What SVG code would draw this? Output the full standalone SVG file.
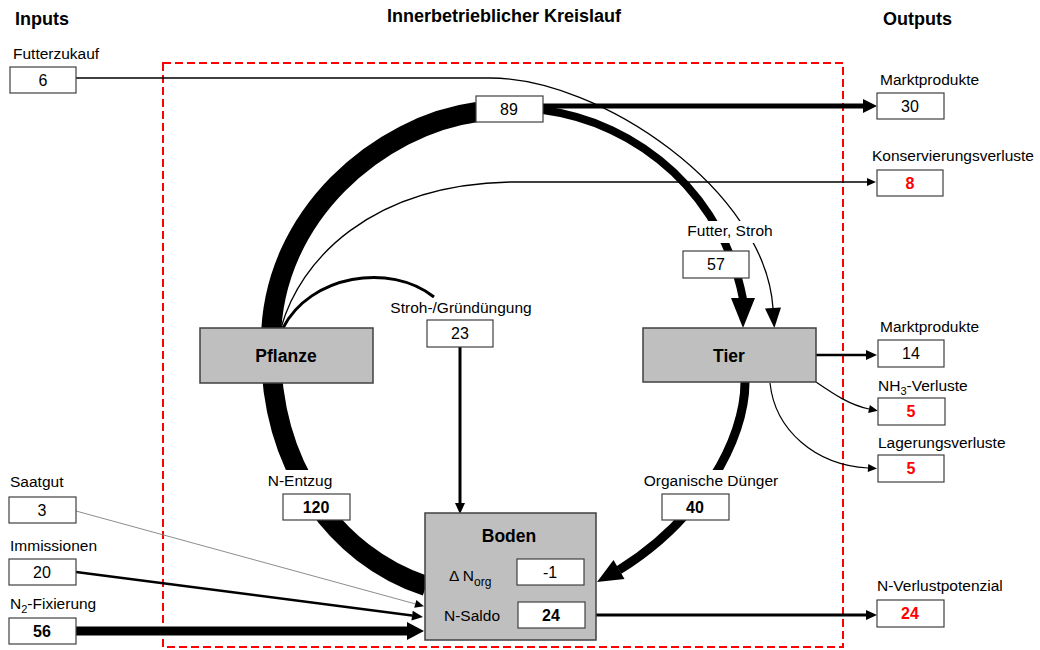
<svg xmlns="http://www.w3.org/2000/svg" width="1040" height="650" viewBox="0 0 1040 650">
<defs>
<style>
text{font-family:"Liberation Sans",Arial,sans-serif;fill:#000}
.lbl{font-size:15.5px}
.num{font-size:16px;text-anchor:middle}
.c{text-anchor:middle}
.b{font-weight:bold}
.red{fill:#ff0000;font-weight:bold}
.hdr{font-size:18px;font-weight:bold}
.nm{font-size:17.5px;font-weight:bold;text-anchor:middle}
.box{fill:#fff;stroke:#404040;stroke-width:1.2}
.gbox{fill:#bfbfbf;stroke:#404040;stroke-width:1.5}
.bg{fill:#fff}
.ln{fill:none;stroke:#000}
</style>
<marker id="aS" markerWidth="9" markerHeight="8" refX="0" refY="4" orient="auto" markerUnits="userSpaceOnUse" overflow="visible"><path d="M0,0 L9,4 L0,8 z"/></marker>
<marker id="aM" markerWidth="11" markerHeight="10" refX="0" refY="5" orient="auto" markerUnits="userSpaceOnUse" overflow="visible"><path d="M0,0 L11,5 L0,10 z"/></marker>
<marker id="aF" markerWidth="20" markerHeight="16" refX="0" refY="8" orient="auto" markerUnits="userSpaceOnUse" overflow="visible"><path d="M0,0 L20,8 L0,16 z"/></marker>
<marker id="aL" markerWidth="14" markerHeight="14" refX="0" refY="7" orient="auto" markerUnits="userSpaceOnUse" overflow="visible"><path d="M0,0 L14,7 L0,14 z"/></marker>
<marker id="aN" markerWidth="17" markerHeight="18" refX="0" refY="9" orient="auto" markerUnits="userSpaceOnUse" overflow="visible"><path d="M0,0 L17,9 L0,18 z"/></marker>
</defs>
<rect width="1040" height="650" fill="#fff"/>

<g id="headers">
<text x="15" y="25" class="hdr">Inputs</text>
<text x="504" y="22" class="hdr c">Innerbetrieblicher Kreislauf</text>
<text x="883" y="25" class="hdr">Outputs</text>
</g>

<rect id="system-boundary" x="163" y="63" width="680" height="584" fill="none" stroke="#ff0000" stroke-width="2" stroke-dasharray="8,4"/>

<g id="connectors">
<path class="ln" stroke-width="20" d="M 477 112 C 380 125, 272 215, 271 340 C 268 465, 335 556, 426 586"/>
<path class="ln" stroke-width="8" d="M 543 110 A 235 235 0 0 1 743 299"/>
<polygon points="731,298 755,298 743,328"/>
<path class="ln" stroke-width="9" d="M 745 382 C 745 440, 700 520, 619 570"/>
<polygon points="597,582 624.5,579 613.5,560"/>
<path class="ln" stroke-width="1.3" d="M 76 78 H 490 C 600 78, 765 190, 773 308" marker-end="url(#aF)"/>
<path class="ln" stroke-width="5" d="M 543 106 H 863" marker-end="url(#aL)"/>
<path class="ln" stroke-width="1.3" d="M 281 328 C 300 260, 370 185, 510 182 H 867" marker-end="url(#aS)"/>
<path class="ln" stroke-width="3" d="M 283 328 C 310 275, 390 262, 434 297"/>
<path class="ln" stroke-width="3" d="M 460 347 V 503" marker-end="url(#aM)"/>
<path class="ln" stroke-width="2.5" d="M 816 355 H 866" marker-end="url(#aM)"/>
<path class="ln" stroke-width="1.2" d="M 816 382 C 835 395, 850 405, 869 409" marker-end="url(#aS)"/>
<path class="ln" stroke-width="1.2" d="M 770 383 C 775 430, 815 465, 868 468" marker-end="url(#aS)"/>
<path fill="none" stroke="#808080" stroke-width="0.9" d="M 76 511 L 415.3 603.9" marker-end="url(#aS)"/>
<path class="ln" stroke-width="2.5" d="M 76 572 L 412.1 615.6" marker-end="url(#aM)"/>
<path class="ln" stroke-width="9" d="M 76 631 H 407" marker-end="url(#aN)"/>
<path class="ln" stroke-width="3" d="M 596 615 H 866" marker-end="url(#aM)"/>
</g>

<g id="pflanze">
<rect class="gbox" x="200" y="328" width="173" height="55"/>
<text x="286" y="362" class="nm">Pflanze</text>
</g>
<g id="tier">
<rect class="gbox" x="643" y="328" width="173" height="54"/>
<text x="729" y="362" class="nm">Tier</text>
</g>
<g id="boden">
<rect class="gbox" x="425" y="513" width="171" height="127"/>
<text x="509" y="542" class="nm">Boden</text>
<text x="449" y="581" class="lbl">Δ N<tspan font-size="12" dy="5">org</tspan></text>
<rect class="box" x="517" y="559" width="67" height="26"/>
<text x="550" y="578" class="num">-1</text>
<text x="444" y="621" class="lbl">N-Saldo</text>
<rect class="box" x="518" y="602" width="67" height="26"/>
<text x="551" y="621" class="num b">24</text>
</g>

<g id="futterzukauf">
<text x="13" y="59" class="lbl">Futterzukauf</text>
<rect class="box" x="10" y="67" width="66" height="26"/>
<text x="43" y="86" class="num">6</text>
</g>
<g id="saatgut">
<text x="10" y="487" class="lbl">Saatgut</text>
<rect class="box" x="9" y="497" width="67" height="26"/>
<text x="42" y="516" class="num">3</text>
</g>
<g id="immissionen">
<text x="10" y="551" class="lbl">Immissionen</text>
<rect class="box" x="9" y="559" width="67" height="26"/>
<text x="42" y="578" class="num">20</text>
</g>
<g id="n2-fixierung">
<text x="10" y="609" class="lbl">N<tspan font-size="11" dy="4">2</tspan><tspan dy="-4">-Fixierung</tspan></text>
<rect class="box" x="9" y="618" width="67" height="26"/>
<text x="42" y="637" class="num b">56</text>
</g>

<g id="flow-89">
<rect class="box" x="476" y="96" width="67" height="26"/>
<text x="509" y="115" class="num">89</text>
</g>
<g id="futter-stroh">
<rect class="bg" x="684" y="221" width="92" height="22"/>
<text x="730" y="236" class="lbl c">Futter, Stroh</text>
<rect class="box" x="683" y="251" width="66" height="27"/>
<text x="716" y="270" class="num">57</text>
</g>
<g id="stroh-gruenduengung">
<rect class="bg" x="385" y="298" width="152" height="22"/>
<text x="461" y="313" class="lbl c">Stroh-/Gründüngung</text>
<rect class="box" x="427" y="320" width="66" height="27"/>
<text x="460" y="339" class="num">23</text>
</g>
<g id="n-entzug">
<rect class="bg" x="266" y="470" width="68" height="24"/>
<text x="300" y="486" class="lbl c">N-Entzug</text>
<rect class="box" x="283" y="494" width="67" height="26"/>
<text x="316" y="513" class="num b">120</text>
</g>
<g id="organische-duenger">
<rect class="bg" x="640" y="470" width="142" height="24"/>
<text x="711" y="486" class="lbl c">Organische Dünger</text>
<rect class="box" x="662" y="494" width="67" height="26"/>
<text x="695" y="513" class="num b">40</text>
</g>

<g id="marktprodukte-pflanze">
<text x="880" y="85" class="lbl">Marktprodukte</text>
<rect class="box" x="877" y="93" width="67" height="26"/>
<text x="910" y="112" class="num">30</text>
</g>
<g id="konservierungsverluste">
<text x="872" y="161" class="lbl">Konservierungsverluste</text>
<rect class="box" x="877" y="170" width="66" height="26"/>
<text x="910" y="189" class="num red">8</text>
</g>
<g id="marktprodukte-tier">
<text x="880" y="332" class="lbl">Marktprodukte</text>
<rect class="box" x="878" y="340" width="66" height="27"/>
<text x="911" y="359" class="num">14</text>
</g>
<g id="nh3-verluste">
<text x="878" y="391" class="lbl">NH<tspan font-size="11" dy="4">3</tspan><tspan dy="-4">-Verluste</tspan></text>
<rect class="box" x="878" y="398" width="67" height="27"/>
<text x="911" y="417" class="num red">5</text>
</g>
<g id="lagerungsverluste">
<text x="878" y="448" class="lbl">Lagerungsverluste</text>
<rect class="box" x="878" y="455" width="66" height="27"/>
<text x="911" y="474" class="num red">5</text>
</g>
<g id="n-verlustpotenzial">
<text x="877" y="591" class="lbl">N-Verlustpotenzial</text>
<rect class="box" x="877" y="600" width="67" height="27"/>
<text x="910" y="619" class="num red">24</text>
</g>
</svg>
